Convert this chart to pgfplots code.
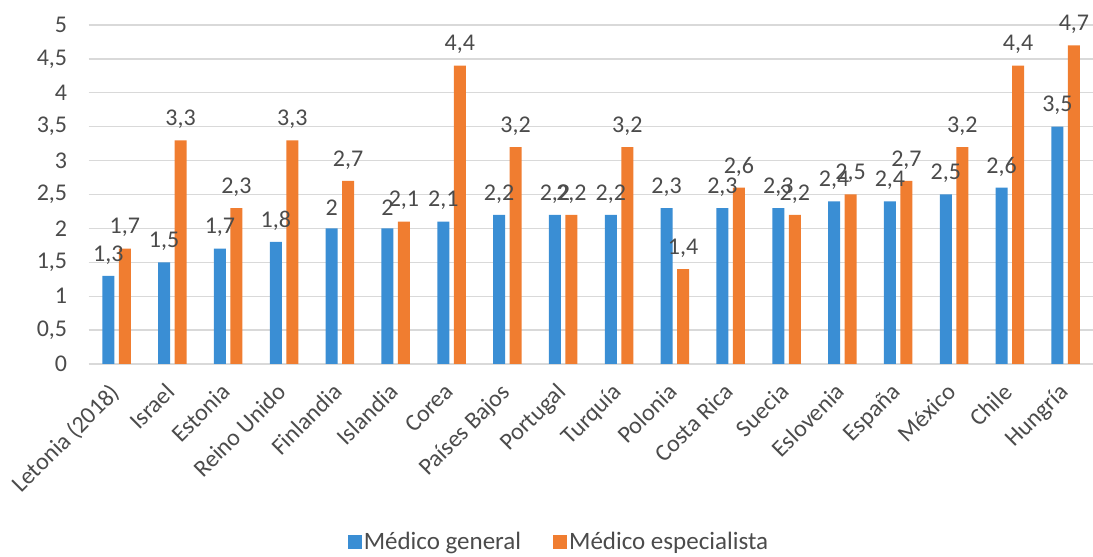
\documentclass[border=0pt]{standalone}
\usepackage{fontspec}
\setmainfont{Carlito}
\usepackage{pgfplots}
\usepackage{pgfplotstable}
\pgfplotsset{compat=1.18}

\definecolor{gblue}{RGB}{58,142,212}
\definecolor{gorange}{RGB}{240,125,48}
\definecolor{txtgray}{RGB}{75,75,75}
\definecolor{gridgray}{RGB}{217,217,217}

% Médicos por cada 1000 habitantes: general y especialista
\pgfplotstableread{
idx general especialista
0  1.3 1.7
1  1.5 3.3
2  1.7 2.3
3  1.8 3.3
4  2.0 2.7
5  2.0 2.1
6  2.1 4.4
7  2.2 3.2
8  2.2 2.2
9  2.2 3.2
10 2.3 1.4
11 2.3 2.6
12 2.3 2.2
13 2.4 2.5
14 2.4 2.7
15 2.5 3.2
16 2.6 4.4
17 3.5 4.7
}\datos

\newcommand{\lbl}{\fontsize{24}{28}\selectfont}

\begin{document}
\begin{tikzpicture}
\useasboundingbox (0pt,0pt) rectangle (1093pt,557pt);
\begin{axis}[
  at={(88.6pt,193pt)}, anchor=south west,
  scale only axis, width=1005pt, height=339pt,
  xmin=-0.5, xmax=17.5, ymin=0, ymax=5,
  clip=false,
  ybar=4.5pt, bar width=12pt,
  ytick={0,0.5,1,1.5,2,2.5,3,3.5,4,4.5,5},
  xtick={0,...,17},
  xticklabels={Letonia (2018),Israel,Estonia,Reino Unido,Finlandia,Islandia,Corea,Países Bajos,Portugal,Turquía,Polonia,Costa Rica,Suecia,Eslovenia,España,México,Chile,Hungría},
  major tick length=0pt,
  axis line style={draw=none},
  ymajorgrids, grid style={gridgray, line width=1.3pt},
  /pgf/number format/.cd, use comma, assume math mode=true, /pgfplots/.cd,
  tick label style={font=\lbl, text=txtgray},
  yticklabel style={xshift=-18pt},
  xticklabel style={xshift=-8pt, yshift=-13pt, rotate=45, anchor=north east},
  nodes near coords,
  every node near coord/.append style={font=\lbl, text=txtgray, anchor=center, yshift=21pt},
  legend style={at={(0.468,-0.525)}, anchor=center, draw=none, fill=none,
    font=\fontsize{25}{29}\selectfont, text=txtgray,
    legend columns=2, /tikz/every even column/.append style={column sep=30pt}},
  legend image code/.code={\fill[#1] (0pt,-7pt) rectangle (14pt,7pt);},
]
\addplot[fill=gblue, draw=none] table[x=idx, y=general] {\datos};
\addplot[fill=gorange, draw=none] table[x=idx, y=especialista] {\datos};
\legend{Médico general, Médico especialista}
\end{axis}
\end{tikzpicture}
\end{document}
